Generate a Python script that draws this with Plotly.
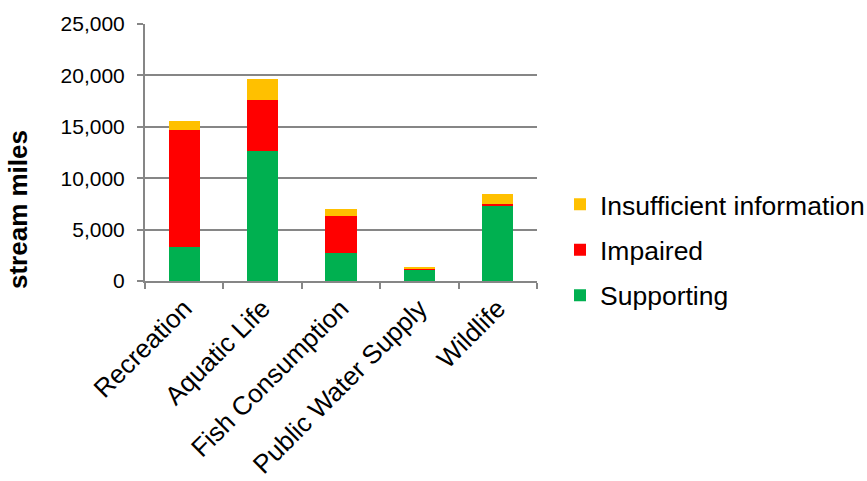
import plotly.graph_objects as go

# Designated uses assessed and stream miles in each attainment category
categories = ["Recreation", "Aquatic Life", "Fish Consumption", "Public Water Supply", "Wildlife"]
supporting = [3300, 12640, 2760, 1100, 7360]
impaired = [11420, 5000, 3560, 100, 100]
insufficient = [810, 1970, 720, 130, 970]

# (name, values, colour, legend rank) in stacking order, bottom first
series = [
    ("Supporting", supporting, "#00B050", 3),
    ("Impaired", impaired, "#FF0000", 2),
    ("Insufficient information", insufficient, "#FFC000", 1),
]

fig = go.Figure()
for name, values, color, rank in series:
    fig.add_trace(go.Bar(
        x=categories, y=values, name=name,
        marker=dict(color=color, line=dict(width=0)),
        legendgroup=name, legendrank=rank,
    ))

font_family = "Liberation Sans, Arial, sans-serif"

# plot area in pixels: x 145..537, y 24..281
W, H = 867, 481
plot_left, plot_right, plot_top, plot_bottom = 145, 537, 24, 281
pw = plot_right - plot_left
ph = plot_bottom - plot_top

fig.update_layout(
    barmode="stack",
    bargap=0.6,
    width=W, height=H,
    margin=dict(l=plot_left, r=W - plot_right, t=plot_top, b=H - plot_bottom, autoexpand=False),
    paper_bgcolor="white",
    plot_bgcolor="white",
    font=dict(family=font_family, color="#000000"),
    legend=dict(
        x=560 / W, xref="container", xanchor="left",
        y=(H - 250) / H, yref="container", yanchor="middle",
        traceorder="grouped",
        tracegroupgap=8,
        font=dict(size=26.5, family=font_family, color="#000000"),
        itemwidth=30,
    ),
    xaxis=dict(
        automargin=False,
        showline=True, linecolor="#868686", linewidth=2,
        ticks="outside", ticklen=6, tickcolor="#868686", tickwidth=2,
        tickson="boundaries",
        tickangle=-45,
        tickfont=dict(size=26, family=font_family, color="#000000"),
        showgrid=False,
    ),
    yaxis=dict(
        automargin=False,
        range=[0, 25000], dtick=5000, tickformat=",",
        showline=True, linecolor="#868686", linewidth=2,
        ticks="outside", ticklen=6, tickcolor="#868686", tickwidth=2,
        ticklabelstandoff=8,
        showgrid=True, gridcolor="#868686", gridwidth=2,
        zeroline=False,
        tickfont=dict(size=21, family=font_family, color="#000000"),
    ),
    annotations=[dict(
        text="<b>stream miles</b>", textangle=-90,
        xref="paper", yref="paper",
        x=(18 - plot_left) / pw, y=(plot_bottom - 210) / ph,
        xanchor="center", yanchor="middle", showarrow=False,
        font=dict(size=26, family=font_family, color="#000000"),
    )],
)

fig.write_html("out.html")
